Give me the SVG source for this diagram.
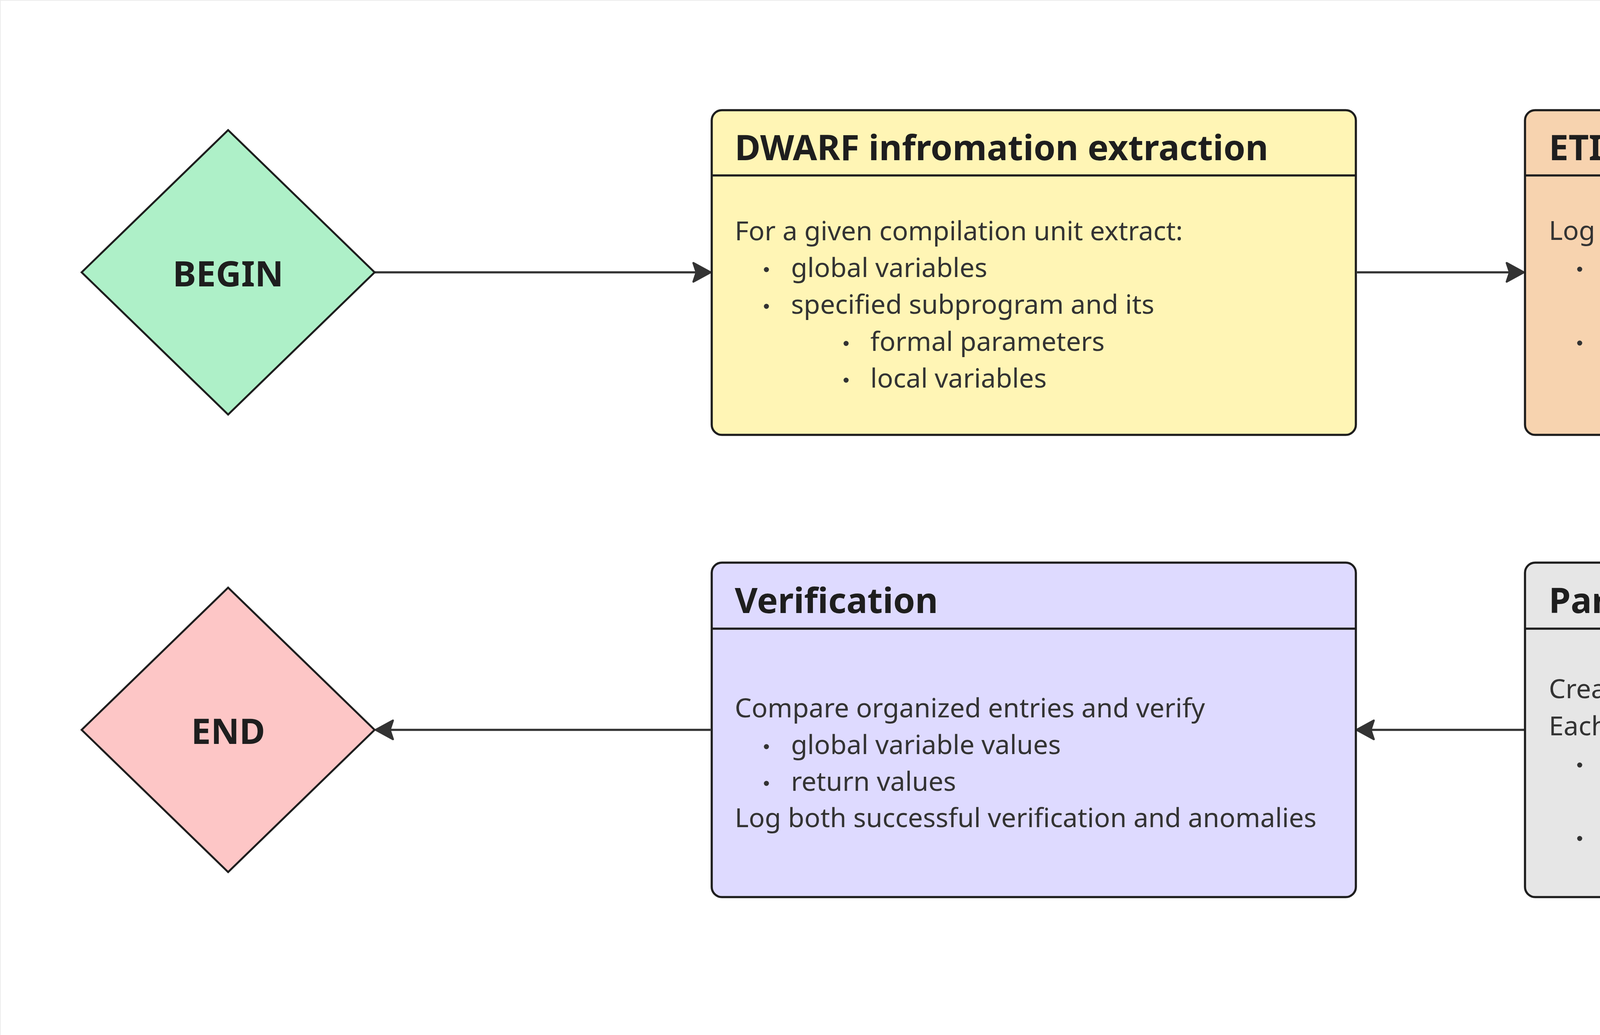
<svg xmlns="http://www.w3.org/2000/svg" width="6038" height="2649" viewBox="0 0 6038 2649">
<defs>
<style>
.bg{fill:#ffffff;stroke:#ececec;stroke-width:2}
.box{stroke:#1e1e1e;stroke-width:5.5}
.div{stroke:#1e1e1e;stroke-width:5.5}
.dia{stroke:#1e1e1e;stroke-width:5}
.title{font-family:"Noto Sans","Open Sans",sans-serif;font-weight:700;font-size:90px;fill:#1e1e1e}
.lbl{font-family:"Noto Sans","Open Sans",sans-serif;font-weight:700;font-size:90px;fill:#1e1e1e;text-anchor:middle}
.body{font-family:"Noto Sans","Open Sans",sans-serif;font-size:68px;fill:#333333}
.dot{fill:#333333}
.edge{fill:none;stroke:#333333;stroke-width:5.5}
</style>
<marker id="arr" markerUnits="userSpaceOnUse" markerWidth="54" markerHeight="58" viewBox="0 0 54 58" refX="49" refY="29" orient="auto">
<path d="M5,5 L49,29 L5,53 L13,29 Z" fill="#333333" stroke="#333333" stroke-width="5" stroke-linejoin="round"/>
</marker>
</defs>
<rect class="bg" x="1" y="1" width="6040" height="2650"/>

<g id="connectors">
<path class="edge" d="M959,697 L1819,697" marker-end="url(#arr)"/>
<path class="edge" d="M3474,697 L3901,697" marker-end="url(#arr)"/>
<path class="edge" d="M4832,1112 L4832,1437" marker-end="url(#arr)"/>
<path class="edge" d="M3902,1868 L3473,1868" marker-end="url(#arr)"/>
<path class="edge" d="M1819,1868 L962,1868" marker-end="url(#arr)"/>
</g>

<g id="begin">
<polygon class="dia" points="584,333 959,697 584,1061 209,697" fill="#aef0c8"/>
<text class="lbl" x="584" y="733">BEGIN</text>
</g>

<g id="end">
<polygon class="dia" points="584,1504 959,1868 584,2232 209,1868" fill="#fdc6c6"/>
<text class="lbl" x="584" y="1904">END</text>
</g>

<g id="dwarf">
<rect class="box" x="1822" y="282" width="1649" height="831" rx="26" fill="#fff5b5"/>
<line class="div" x1="1822" y1="449" x2="3471" y2="449"/>
<text class="title" x="1881" y="410">DWARF infromation extraction</text>
<text class="body" x="1881" y="615">For a given compilation unit extract:</text>
<circle class="dot" cx="1962" cy="690" r="6.5"/>
<text class="body" x="2025" y="709">global variables</text>
<circle class="dot" cx="1962" cy="784" r="6.5"/>
<text class="body" x="2025" y="803">specified subprogram and its</text>
<circle class="dot" cx="2166" cy="879" r="6.5"/>
<text class="body" x="2228" y="898">formal parameters</text>
<circle class="dot" cx="2166" cy="973" r="6.5"/>
<text class="body" x="2228" y="992">local variables</text>
</g>

<g id="etiss">
<rect class="box" x="3904" y="282" width="1855" height="831" rx="26" fill="#f7d3af"/>
<line class="div" x1="3904" y1="449" x2="5759" y2="449"/>
<text class="title" x="3965" y="410">ETISS simulation</text>
<text class="body" x="3965" y="614">Log</text>
<circle class="dot" cx="4044" cy="689" r="6.5"/>
<text class="body" x="4109" y="708">CPU state snapshots from function prologue and</text>
<text class="body" x="4109" y="802">function epilogue</text>
<circle class="dot" cx="4044" cy="878" r="6.5"/>
<text class="body" x="4109" y="897">all data writes that occur between function</text>
<text class="body" x="4109" y="991">prologue and function epilogue</text>
</g>

<g id="parse">
<rect class="box" x="3904" y="1440" width="1855" height="856" rx="26" fill="#e6e6e6"/>
<line class="div" x1="3904" y1="1609" x2="5759" y2="1609"/>
<text class="title" x="3965" y="1569">Parse ETISS activity log</text>
<text class="body" x="3965" y="1787">Create organized entries for each function execution.</text>
<text class="body" x="3965" y="1882">Each entry contains</text>
<circle class="dot" cx="4044" cy="1958" r="6.5"/>
<text class="body" x="4109" y="1977">CPU state snapshots for function prologue and</text>
<text class="body" x="4109" y="2071">epilogue</text>
<circle class="dot" cx="4044" cy="2146" r="6.5"/>
<text class="body" x="4109" y="2165">data writes</text>
</g>

<g id="verification">
<rect class="box" x="1822" y="1440" width="1649" height="856" rx="26" fill="#dedaff"/>
<line class="div" x1="1822" y1="1609" x2="3471" y2="1609"/>
<text class="title" x="1881" y="1569">Verification</text>
<text class="body" x="1881" y="1836">Compare organized entries and verify</text>
<circle class="dot" cx="1962" cy="1911" r="6.5"/>
<text class="body" x="2025" y="1930">global variable values</text>
<circle class="dot" cx="1962" cy="2005" r="6.5"/>
<text class="body" x="2025" y="2024">return values</text>
<text class="body" x="1881" y="2117">Log both successful verification and anomalies</text>
</g>
</svg>
